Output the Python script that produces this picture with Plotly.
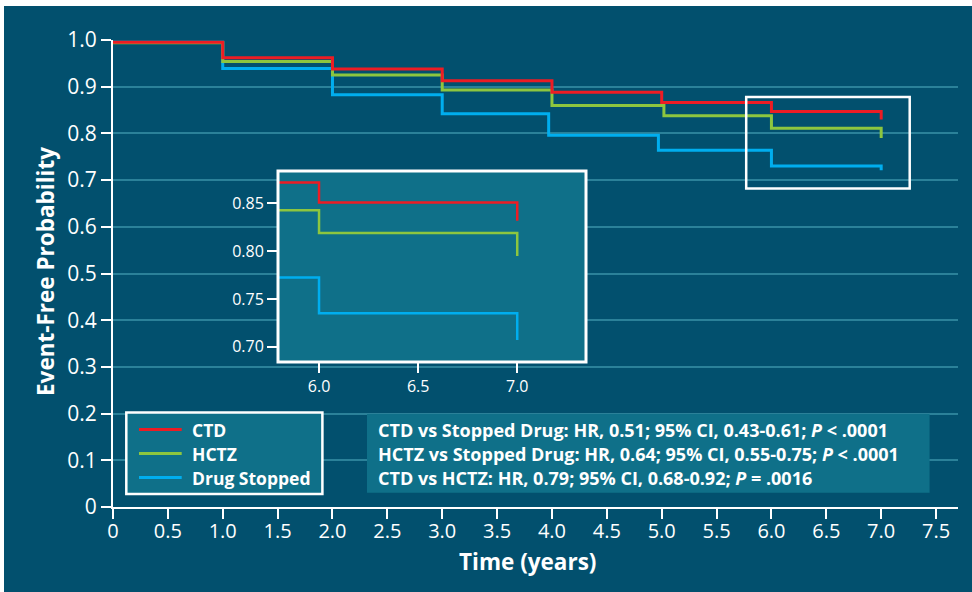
import plotly.graph_objects as go

# ---------------- data ----------------
# Main Kaplan-Meier curves: step times (years) and event-free probability after each step
ctd_t = [0, 1.0, 2.0, 3.0, 4.0, 5.0, 6.0, 7.0]
ctd_p = [0.995, 0.962, 0.938, 0.913, 0.888, 0.866, 0.847, 0.830]
hctz_t = [0, 1.0, 2.0, 3.0, 4.0, 5.02, 6.0, 7.0]
hctz_p = [0.994, 0.954, 0.925, 0.893, 0.860, 0.838, 0.811, 0.790]
stop_t = [0, 1.0, 2.0, 3.0, 3.97, 4.97, 6.0, 7.0]
stop_p = [0.995, 0.939, 0.883, 0.842, 0.796, 0.764, 0.730, 0.721]

# Inset (magnified view of years ~5.8-7.3)
inset_t = [5.79, 6.0, 7.0]
inset_ctd = [0.872, 0.851, 0.832]
inset_hctz = [0.843, 0.819, 0.795]
inset_stop = [0.7725, 0.735, 0.707]

series_names = ["CTD", "HCTZ", "Drug Stopped"]
stats_lines = [
    "CTD vs Stopped Drug: HR, 0.51; 95% CI, 0.43-0.61; <i>P</i> < .0001",
    "HCTZ vs Stopped Drug: HR, 0.64; 95% CI, 0.55-0.75; <i>P</i> < .0001",
    "CTD vs HCTZ: HR, 0.79; 95% CI, 0.68-0.92; <i>P</i> = .0016",
]

x_ticks = [0, 0.5, 1.0, 1.5, 2.0, 2.5, 3.0, 3.5, 4.0, 4.5, 5.0, 5.5, 6.0, 6.5, 7.0, 7.5]
x_labels = ["0", "0.5", "1.0", "1.5", "2.0", "2.5", "3.0", "3.5", "4.0", "4.5",
            "5.0", "5.5", "6.0", "6.5", "7.0", "7.5"]
y_ticks = [0, 0.1, 0.2, 0.3, 0.4, 0.5, 0.6, 0.7, 0.8, 0.9, 1.0]
y_labels = ["0", "0.1", "0.2", "0.3", "0.4", "0.5", "0.6", "0.7", "0.8", "0.9", "1.0"]
inset_x_ticks = [6.0, 6.5, 7.0]
inset_x_labels = ["6.0", "6.5", "7.0"]
inset_y_ticks = [0.70, 0.75, 0.80, 0.85]
inset_y_labels = ["0.70", "0.75", "0.80", "0.85"]
inset_x_range = [5.793, 7.347]
inset_y_range = [0.684, 0.884]

# highlighted region on main plot (data units)
zoom_x = [5.77, 7.26]
zoom_y = [0.682, 0.878]

# ---------------- style ----------------
W, H = 972, 592
ML, MR, MT, MB = 113, 14, 40, 85
PW, PH = W - ML - MR, H - MT - MB
BG = "#02506e"
GRID = "#2b8199"
BOX = "#0f7089"
RED, GREEN, BLUE = "#ed1c24", "#8dc63f", "#00aeef"
colors = [RED, GREEN, BLUE]
FONT = "Open Sans"


def px(x):
    return (x - ML) / PW


def py(y):
    return (H - MB - y) / PH


fig = go.Figure()

main_series = list(zip([ctd_t, hctz_t, stop_t], [ctd_p, hctz_p, stop_p], colors, series_names))
# draw Drug Stopped first so CTD ends up on top
for t, p, c, n in reversed(main_series):
    fig.add_trace(go.Scatter(x=t, y=p, mode="lines", line=dict(color=c, width=3, shape="hv"),
                             name=n, xaxis="x", yaxis="y"))

for p, c, n in zip([inset_ctd, inset_hctz, inset_stop], colors, series_names):
    fig.add_trace(go.Scatter(x=inset_t, y=p, mode="lines", line=dict(color=c, width=2.5, shape="hv"),
                             name=n, xaxis="x2", yaxis="y2", showlegend=False))

axis_common = dict(showline=True, linecolor="white", linewidth=2, ticks="outside", ticklen=10,
                   tickwidth=2, tickcolor="white", zeroline=False)

inset_dom_x = [px(278), px(586)]
inset_dom_y = [py(362), py(171)]

fig.update_layout(
    width=W, height=H,
    margin=dict(l=ML, r=MR, t=MT, b=MB),
    paper_bgcolor=BG, plot_bgcolor=BG,
    showlegend=False,
    font=dict(family=FONT, color="white"),
    xaxis=dict(domain=[0, 1], range=[0, 7.7], tickvals=x_ticks, ticktext=x_labels,
               showgrid=False, tickfont=dict(size=20, color="white"), ticklabelstandoff=-5,
               **axis_common),
    yaxis=dict(domain=[0, 1], range=[0, 1.0], tickvals=y_ticks, ticktext=y_labels,
               showgrid=True, gridcolor=GRID, gridwidth=2,
               tickfont=dict(size=21, color="white"), **axis_common),
    xaxis2=dict(domain=inset_dom_x, anchor="y2", range=inset_x_range,
                tickvals=inset_x_ticks, ticktext=inset_x_labels, showgrid=False, showline=False,
                ticks="outside", ticklen=10, tickwidth=2, tickcolor="white", zeroline=False,
                tickfont=dict(size=16, color="white")),
    yaxis2=dict(domain=inset_dom_y, anchor="x2", range=inset_y_range,
                tickvals=inset_y_ticks, ticktext=inset_y_labels, showgrid=False, showline=False,
                ticks="outside", ticklen=10, tickwidth=2, tickcolor="white", zeroline=False,
                tickfont=dict(size=16, color="white")),
)

shapes = []
# white page strips (top / left)
shapes.append(dict(type="rect", xref="paper", yref="paper", x0=px(-10), x1=px(W + 10),
                   y0=py(6), y1=py(-10), fillcolor="white", line=dict(width=0), layer="above"))
shapes.append(dict(type="rect", xref="paper", yref="paper", x0=px(-10), x1=px(4),
                   y0=py(H + 10), y1=py(-10), fillcolor="white", line=dict(width=0), layer="above"))
# inset background and border
shapes.append(dict(type="rect", xref="x2", yref="y2", x0=inset_x_range[0], x1=inset_x_range[1],
                   y0=inset_y_range[0], y1=inset_y_range[1],
                   fillcolor=BOX, line=dict(width=0), layer="below"))
shapes.append(dict(type="rect", xref="paper", yref="paper", x0=inset_dom_x[0], x1=inset_dom_x[1],
                   y0=inset_dom_y[0], y1=inset_dom_y[1],
                   fillcolor="rgba(0,0,0,0)", line=dict(color="white", width=3), layer="above"))
# highlight rectangle on main plot
shapes.append(dict(type="rect", xref="x", yref="y", x0=zoom_x[0], x1=zoom_x[1],
                   y0=zoom_y[0], y1=zoom_y[1], line=dict(color="white", width=2.5), layer="above"))
# legend box
shapes.append(dict(type="rect", xref="paper", yref="paper", x0=px(126.3), x1=px(322.4),
                   y0=py(494), y1=py(412.5), fillcolor=BOX, line=dict(color="white", width=2.5),
                   layer="above"))
# stats box
shapes.append(dict(type="rect", xref="paper", yref="paper", x0=px(367), x1=px(929.6),
                   y0=py(492.7), y1=py(414), fillcolor=BOX, line=dict(width=0), layer="above"))

annotations = []
row_y = [429.5, 453.5, 477.5]
for name, c, ry in zip(series_names, colors, row_y):
    shapes.append(dict(type="line", xref="paper", yref="paper", x0=px(139), x1=px(181.7),
                       y0=py(ry), y1=py(ry), line=dict(color=c, width=3), layer="above"))
    annotations.append(dict(xref="paper", yref="paper", x=px(189.5), y=py(ry), text="<b>%s</b>" % name,
                            showarrow=False, xanchor="left", yanchor="middle",
                            font=dict(family=FONT, size=17.5, color="white")))
for line, ry in zip(stats_lines, row_y):
    annotations.append(dict(xref="paper", yref="paper", x=px(376), y=py(ry), text="<b>%s</b>" % line,
                            showarrow=False, xanchor="left", yanchor="middle",
                            font=dict(family=FONT, size=18, color="white")))

annotations.append(dict(xref="paper", yref="paper", x=px(527), y=py(561), text="<b>Time (years)</b>",
                        showarrow=False, xanchor="center", yanchor="middle",
                        font=dict(family=FONT, size=22.5, color="white")))
annotations.append(dict(xref="paper", yref="paper", x=px(45), y=py(272),
                        text="<b>Event-Free Probability</b>", textangle=-90,
                        showarrow=False, xanchor="center", yanchor="middle",
                        font=dict(family=FONT, size=22.5, color="white")))

fig.update_layout(shapes=shapes, annotations=annotations)

fig.write_html(
    "out.html",
    config={"displayModeBar": False},
    post_script="document.body.style.margin='0px';document.body.style.padding='0px';"
                "document.documentElement.style.overflow='hidden';",
)
